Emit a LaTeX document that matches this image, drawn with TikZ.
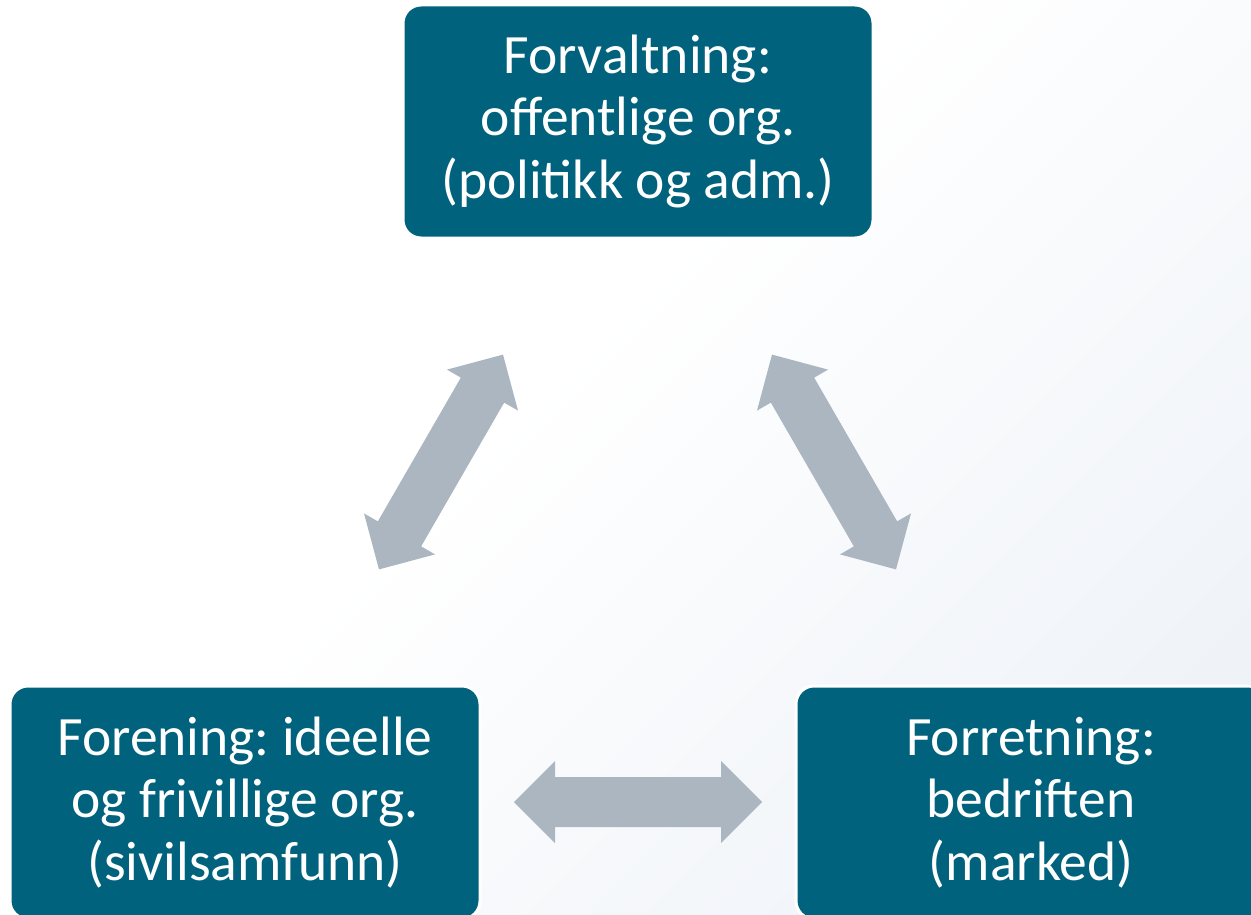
\documentclass[tikz,border=0pt]{standalone}
\usepackage{fontspec}
\setmainfont{Carlito}
\frenchspacing
\definecolor{boxteal}{HTML}{00627C}
\definecolor{arrowgray}{HTML}{ABB6C0}
\definecolor{bgblue}{HTML}{E3EAF3}
\pgfdeclarehorizontalshading{bgshade}{100bp}{color(0bp)=(white); color(45bp)=(white); color(100bp)=(bgblue)}
\tikzset{
  orgbox/.style={rectangle, rounded corners=18pt, fill=boxteal, draw=white, line width=3pt,
    text=white, minimum width=470pt, minimum height=233pt, align=center,
    font=\fontsize{55.5}{62.5}\selectfont, inner sep=0pt},
  dblarrow/.pic={\fill[arrowgray] (124,0) -- (83,41) -- (83,25) -- (-83,25) -- (-83,41) -- (-124,0)
    -- (-83,-41) -- (-83,-25) -- (83,-25) -- (83,-41) -- cycle;}
}
\begin{document}
\begin{tikzpicture}[x=1pt,y=-1pt]
\useasboundingbox (0,0) rectangle (1251,915);
\clip (0,0) rectangle (1251,915);
\shade[shading=bgshade, shading angle=-45] (0,0) rectangle (1251,915);
\node[orgbox] (forv) at (638,121.5) {Forvaltning:\\offentlige org.\\(politikk og adm.)};
\node[orgbox] (foren) at (245,802.5) {Forening: ideelle\\og frivillige org.\\(sivilsamfunn)};
\node[orgbox] (forr) at (1031,802.5) {Forretning:\\bedriften\\(marked)};
\coordinate (aL) at (441,462);
\coordinate (aR) at (834,462);
\coordinate (aB) at (638,802);
\pic[rotate=60] at (aL) {dblarrow};
\pic[rotate=-60] at (aR) {dblarrow};
\pic at (aB) {dblarrow};
\end{tikzpicture}
\end{document}
